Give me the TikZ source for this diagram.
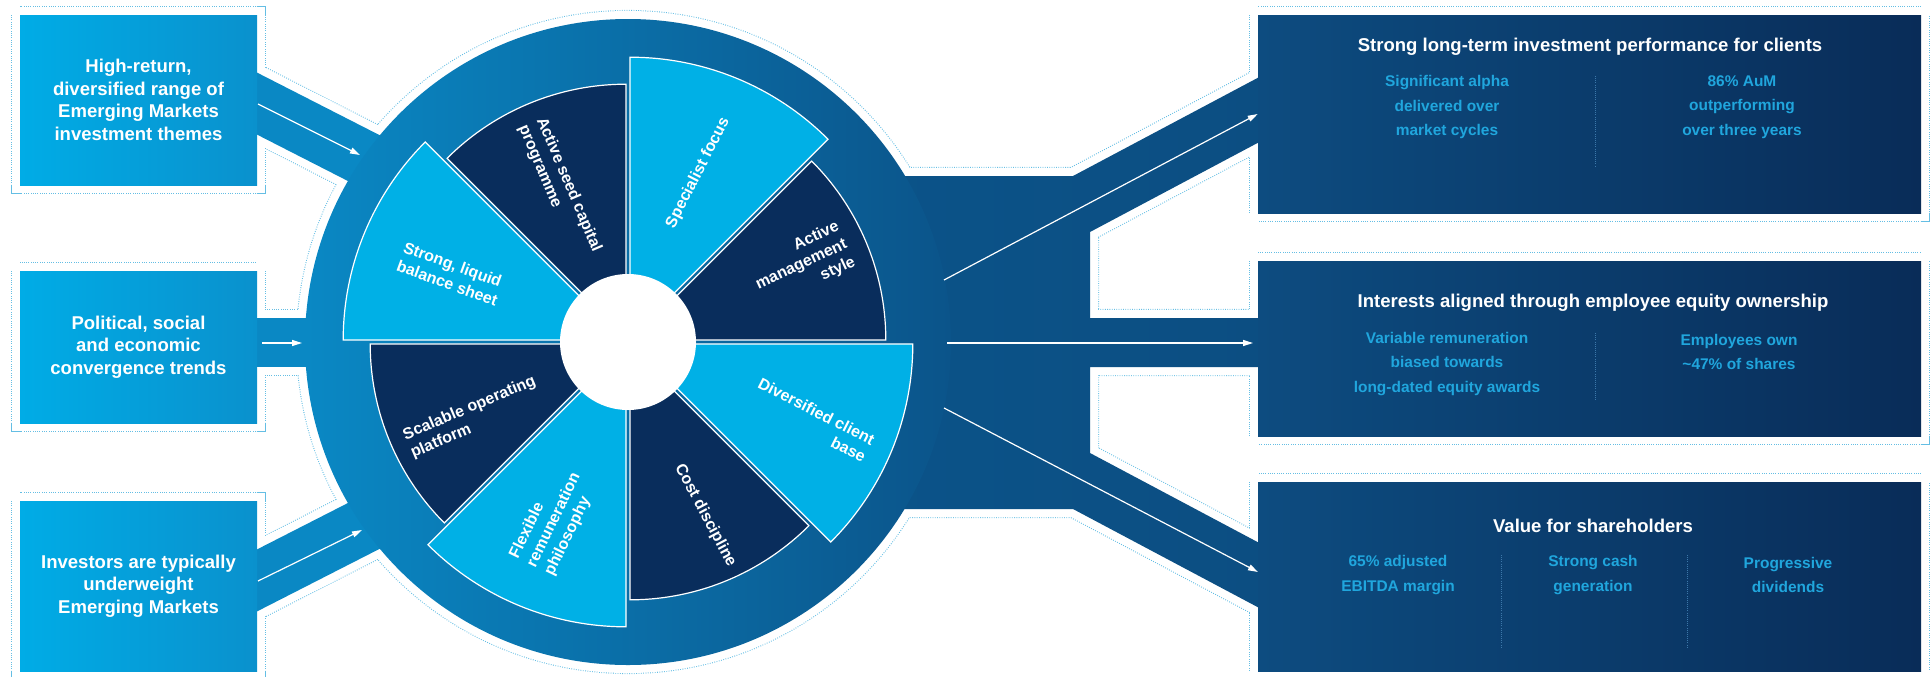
\documentclass[tikz,border=0pt]{standalone}
\usepackage{fontspec}
\setmainfont{Liberation Sans}
\usepackage{xcolor}
\usepackage{tikz}
\usetikzlibrary{arrows.meta, positioning, calc}
\definecolor{inleft}{RGB}{0, 172, 230}
\definecolor{inright}{RGB}{10, 145, 205}
\definecolor{ringleft}{RGB}{10, 136, 196}
\definecolor{ringright}{RGB}{11, 84, 138}
\definecolor{trunkblue}{RGB}{12, 78, 130}
\definecolor{outleft}{RGB}{13, 76, 128}
\definecolor{outright}{RGB}{9, 44, 88}
\definecolor{segcyan}{RGB}{0, 176, 230}
\definecolor{segnavy}{RGB}{9, 45, 92}
\definecolor{subcyan}{RGB}{32, 166, 221}
\definecolor{dotcyan}{RGB}{100, 190, 228}
\definecolor{divblue}{RGB}{60, 120, 170}
\pgfdeclarelayer{dots}
\pgfdeclarelayer{halo}
\pgfsetlayers{dots,halo,main}
% outlines of the flow shapes (pixel units, y downwards)
\newcommand{\bandA}{(250,69) -- (440,166) -- (440,228) -- (250,131) -- cycle}
\newcommand{\bandB}{(250,318) rectangle (440,367)}
\newcommand{\bandC}{(250,615) -- (440,518) -- (440,456) -- (250,553) -- cycle}
\newcommand{\hub}{(628,342) circle[radius=323]}
\newcommand{\trunk}{(800,176) -- (1073,176) -- (1265,74) -- (1265,139) -- (1090,232) -- (1090,318) -- (1265,318) -- (1265,367) -- (1090,367) -- (1090,453) -- (1265,546) -- (1265,611) -- (1073,509) -- (800,509) -- cycle}

\begin{document}
\begin{tikzpicture}[
    x=0.75pt, y=-0.75pt,
    inbox/.style={rectangle, left color=inleft, right color=inright, text=white,
                  minimum width=177.75pt, minimum height=127.5pt, inner sep=0pt,
                  align=center, font=\fontsize{13.9}{17}\selectfont\bfseries},
    outbox/.style={rectangle, left color=outleft, right color=outright,
                   minimum width=497.25pt, inner sep=0pt},
    title/.style={text=white, font=\fontsize{13.9}{17}\selectfont\bfseries},
    point/.style={text=subcyan, align=center, font=\fontsize{11.6}{18.4}\selectfont\bfseries},
    seglabel/.style={text=white, inner sep=0pt, font=\fontsize{12}{14.6}\selectfont\bfseries},
    dotline/.style={draw=dotcyan, line width=13.6pt, dash pattern=on 0.6pt off 1.1pt},
    haloline/.style={draw=white, line width=12pt},
    flow/.style={-{Triangle[length=7.5pt, width=4.5pt]}, white, line width=0.9pt},
    divider/.style={draw=divblue, densely dotted, line width=0.6pt}
]
\useasboundingbox (0,0) rectangle (1931,676);
\clip (0,0) rectangle (1931,676);

% channels and hub
\fill[ringleft] \bandA;
\fill[ringleft] \bandB;
\fill[ringleft] \bandC;
\shade[left color=ringright, right color=trunkblue] \trunk;
\shade[left color=ringleft, right color=ringright] \hub;

% drivers
\node[inbox] (inA) at (138.5,100) {High-return,\\diversified range of\\Emerging Markets\\investment themes};
\node[inbox, minimum height=114pt] (inB) at (138.5,347) {Political, social\\and economic\\convergence trends};
\node[inbox] (inC) at (138.5,586) {Investors are typically\\underweight\\Emerging Markets};

% outcomes
\node[outbox, minimum height=148.5pt] (outA) at (1589.5,114) {};
\node[outbox, minimum height=131.25pt] (outB) at (1589.5,348.5) {};
\node[outbox, minimum height=141.75pt] (outC) at (1589.5,576.5) {};

% dotted rim round everything
\begin{pgfonlayer}{dots}
\foreach \s in {\bandA, \bandB, \bandC, \hub, \trunk}
  \draw[dotline] \s;
\foreach \b in {inA, inB, inC, outA, outB, outC}
  \draw[dotline] (\b.north west) rectangle (\b.south east);
\end{pgfonlayer}
\begin{pgfonlayer}{halo}
\foreach \s in {\bandA, \bandB, \bandC, \hub, \trunk}
  \draw[haloline] \s;
\foreach \b in {inA, inB, inC, outA, outB, outC}
  \draw[haloline] (\b.north west) rectangle (\b.south east);
\end{pgfonlayer}

% wheel
\begin{scope}[shift={(628,342)}, yscale=-1]
  \foreach \a/\r/\c in {22.5/253/segnavy, 67.5/280/segcyan, 112.5/253/segnavy, 157.5/280/segcyan,
                        202.5/253/segnavy, 247.5/280/segcyan, 292.5/253/segnavy, 337.5/280/segcyan}
    \filldraw[fill=\c, draw=white, line width=0.9pt]
      (\a:5.2) -- ++({\a-22.5}:\r) arc[start angle=\a-22.5, end angle=\a+22.5, radius=\r] -- cycle;
  \fill[white] (0,0) circle[radius=68];
  \node[seglabel, rotate=25, align=right] (sMgmt) at (24:190) {Active\\management\\style};
  \node[seglabel, rotate=63] (sFocus) at (67.5:183) {Specialist focus};
  \node[seglabel, rotate=-67, align=left] (sSeed) at (114:168) {Active seed capital\\programme};
  \node[seglabel, rotate=-20, align=left] (sBal) at (159:190) {Strong, liquid\\balance sheet};
  \node[seglabel, rotate=23, align=left] (sPlat) at (206:172) {Scalable operating\\platform};
  \node[seglabel, rotate=64, align=left] (sRem) at (247.5:193) {Flexible\\remuneration\\philosophy};
  \node[seglabel, rotate=-62] (sCost) at (294:190) {Cost discipline};
  \node[seglabel, rotate=-27, align=right] (sClient) at (337:200) {Diversified client\\base};
\end{scope}

% arrows
\coordinate (a1s) at (258,104);
\coordinate (a1e) at (360,155);
\coordinate (a2s) at (262,343);
\coordinate (a2e) at (302,343);
\coordinate (a3s) at (258,581);
\coordinate (a3e) at (362,530);
\coordinate (b1s) at (944,280);
\coordinate (b2s) at (947,343);
\coordinate (b2e) at (1253,343);
\coordinate (b3s) at (944,408);
\coordinate (b3e) at (1258,572);
\draw[flow] (a1s) -- (a1e);
\draw[flow] (a2s) -- (a2e);
\draw[flow] (a3s) -- (a3e);
\draw[flow] (b1s) -- (outA.west);
\draw[flow] (b2s) -- (b2e);
\draw[flow] (b3s) -- (b3e);

% outcome texts
\node[title] (tA) at (1590,47) {Strong long-term investment performance for clients};
\node[point] (pA1) at (1447,107) {Significant alpha\\delivered over\\market cycles};
\node[point] (pA2) at (1742,107) {86\% AuM\\outperforming\\over three years};
\draw[divider] (1595,76) -- (1595,167);

\node[title] (tB) at (1593,303) {Interests aligned through employee equity ownership};
\node[point] (pB1) at (1447,364) {Variable remuneration\\biased towards\\long-dated equity awards};
\node[point] (pB2) at (1739,352) {Employees own\\\textasciitilde47\% of shares};
\draw[divider] (1595,333) -- (1595,400);

\node[title] (tC) at (1593,526) {Value for shareholders};
\node[point] (pC1) at (1398,575) {65\% adjusted\\EBITDA margin};
\node[point] (pC2) at (1593,575) {Strong cash\\generation};
\node[point] (pC3) at (1788,575) {Progressive\\dividends};
\draw[divider] (1501,555) -- (1501,648);
\draw[divider] (1687,555) -- (1687,648);
\end{tikzpicture}
\end{document}
